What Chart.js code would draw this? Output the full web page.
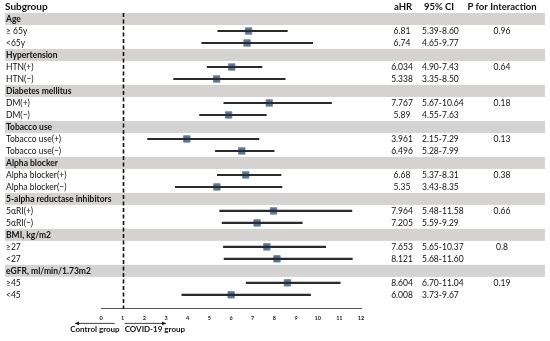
<!DOCTYPE html>
<html>
<head>
<meta charset="utf-8">
<script src="https://cdn.jsdelivr.net/npm/chart.js@4"></script>
<style>
  body { margin: 0; background: #fff; }
  #wrap { width: 550px; height: 341px; }
</style>
</head>
<body>
<div id="wrap"><canvas id="forest"></canvas></div>
<script>
// subgroups and their two rows each
var groups = ['Age', 'Hypertension', 'Diabetes mellitus', 'Tobacco use', 'Alpha blocker',
  '5-alpha reductase inhibitors', 'BMI, kg/m2', 'eGFR, ml/min/1.73m2'];
var subLabels = ['\u2265 65y', '<65y', 'HTN(+)', 'HTN(\u2212)', 'DM(+)', 'DM(\u2212)',
  'Tobacco use(+)', 'Tobacco use(\u2212)', 'Alpha blocker(+)', 'Alpha blocker(\u2212)',
  '5\u03b1RI(+)', '5\u03b1RI(\u2212)', '\u226527', '<27', '\u226545', '<45'];
var aHR = [6.81, 6.74, 6.034, 5.338, 7.767, 5.89, 3.961, 6.496, 6.68, 5.35, 7.964, 7.205, 7.653, 8.121, 8.604, 6.008];
var ciLow = [5.39, 4.65, 4.90, 3.35, 5.67, 4.55, 2.15, 5.28, 5.37, 3.43, 5.48, 5.59, 5.65, 5.68, 6.70, 3.73];
var ciHigh = [8.60, 9.77, 7.43, 8.50, 10.64, 7.63, 7.29, 7.99, 8.31, 8.35, 11.58, 9.29, 10.37, 11.60, 11.04, 9.67];
var aHRText = ['6.81', '6.74', '6.034', '5.338', '7.767', '5.89', '3.961', '6.496', '6.68', '5.35', '7.964', '7.205', '7.653', '8.121', '8.604', '6.008'];
var ciText = ['5.39-8.60', '4.65-9.77', '4.90-7.43', '3.35-8.50', '5.67-10.64', '4.55-7.63', '2.15-7.29', '5.28-7.99',
  '5.37-8.31', '3.43-8.35', '5.48-11.58', '5.59-9.29', '5.65-10.37', '5.68-11.60', '6.70-11.04', '3.73-9.67'];
var pInteraction = ['0.96', '0.64', '0.18', '0.13', '0.38', '0.66', '0.8', '0.19'];
var xTicks = [0, 1, 2, 3, 4, 5, 6, 7, 8, 9, 10, 11, 12];
var refLine = 1;

var FONT = 'Lato, "Open Sans", sans-serif';

// each group takes 3 rows: header, (+), (-)
function rowOf(i) { return Math.floor(i / 2) * 3 + 1 + (i % 2); }

var ciData = aHR.map(function (v, i) { return { y: rowOf(i), x: [ciLow[i], ciHigh[i]] }; });
var pointData = aHR.map(function (v, i) { return { y: rowOf(i), x: v }; });

var tablePlugin = {
  id: 'table',
  beforeDatasetsDraw: function (chart) {
    var ctx = chart.ctx, x = chart.scales.x, y = chart.scales.y;
    var step = Math.abs(y.getPixelForValue(1) - y.getPixelForValue(0));
    ctx.save();
    // grey bands for group headers
    ctx.fillStyle = '#d5d3d1';
    groups.forEach(function (g, k) {
      var cy = y.getPixelForValue(k * 3);
      ctx.fillRect(5, cy - step / 2, 540, step);
    });
    // reference line at HR = 1
    ctx.strokeStyle = '#111';
    ctx.lineWidth = 1.6;
    ctx.setLineDash([4, 2.5]);
    var rx = Math.round(x.getPixelForValue(refLine)) + 0.5;
    ctx.beginPath();
    ctx.moveTo(rx, y.getPixelForValue(-0.5));
    ctx.lineTo(rx, chart.chartArea.bottom);
    ctx.stroke();
    ctx.restore();
  },
  afterDraw: function (chart) {
    var ctx = chart.ctx, x = chart.scales.x, y = chart.scales.y;
    ctx.save();
    ctx.fillStyle = '#111';
    ctx.textBaseline = 'middle';
    var hy = y.getPixelForValue(-1);
    ctx.font = 'bold 10px ' + FONT;
    ctx.textAlign = 'left';
    ctx.fillText('Subgroup', 5, hy);
    ctx.font = 'bold 9.5px ' + FONT;
    ctx.textAlign = 'center';
    ctx.fillText('aHR', 403, hy);
    ctx.fillText('95% CI', 439, hy);
    ctx.fillText('P for Interaction', 502, hy);

    groups.forEach(function (g, k) {
      ctx.font = 'bold 8.5px ' + FONT;
      ctx.textAlign = 'left';
      ctx.fillText(g, 6, y.getPixelForValue(k * 3));
    });
    subLabels.forEach(function (s, i) {
      var cy = y.getPixelForValue(rowOf(i));
      ctx.font = '8.5px ' + FONT;
      ctx.textAlign = 'left';
      ctx.fillText(s, 6, cy);
      ctx.textAlign = 'center';
      ctx.fillText(aHRText[i], 402, cy);
      ctx.textAlign = 'left';
      ctx.fillText(ciText[i], 422, cy);
      if (i % 2 === 0) {
        ctx.textAlign = 'center';
        ctx.fillText(pInteraction[i / 2], 502, cy);
      }
    });

    // direction arrows under the axis
    var ay = chart.chartArea.bottom + 15;
    ctx.strokeStyle = '#111';
    ctx.lineWidth = 0.8;
    function arrow(x0, x1) {
      var d = x1 > x0 ? 1 : -1;
      ctx.beginPath();
      ctx.moveTo(x0, ay); ctx.lineTo(x1, ay); ctx.stroke();
      ctx.beginPath();
      ctx.moveTo(x1, ay); ctx.lineTo(x1 - d * 4, ay - 1.8); ctx.lineTo(x1 - d * 4, ay + 1.8);
      ctx.closePath(); ctx.fill();
    }
    arrow(x.getPixelForValue(refLine) - 8, x.getPixelForValue(-1.2));
    arrow(x.getPixelForValue(refLine) + 2, x.getPixelForValue(3));
    ctx.font = 'bold 8px ' + FONT;
    ctx.textAlign = 'right';
    ctx.fillText('Control group', x.getPixelForValue(refLine) - 3, ay + 6.5);
    ctx.textAlign = 'left';
    ctx.fillText('COVID-19 group', x.getPixelForValue(refLine) + 2, ay + 6.5);
    ctx.restore();
  }
};

new Chart(document.getElementById('forest'), {
  data: {
    datasets: [{
      type: 'bar',
      indexAxis: 'y',
      data: ciData,
      backgroundColor: '#2b2b2b',
      barThickness: 1.4,
      borderWidth: 0
    }, {
      type: 'scatter',
      data: pointData,
      pointStyle: 'rect',
      pointRadius: 4.6,
      backgroundColor: '#587393',
      borderColor: '#6a84a2',
      borderWidth: 0.8
    }]
  },
  plugins: [tablePlugin],
  options: {
    responsive: true,
    maintainAspectRatio: false,
    animation: false,
    layout: { padding: { left: 101, right: 189, top: 13, bottom: 12 } },
    plugins: { legend: { display: false }, tooltip: { enabled: false } },
    scales: {
      x: {
        type: 'linear',
        min: xTicks[0],
        max: xTicks[xTicks.length - 1],
        offset: false,
        afterBuildTicks: function (axis) { axis.ticks = xTicks.map(function (v) { return { value: v }; }); },
        grid: { display: false, drawTicks: false },
        border: { display: true, color: '#555', width: 1 },
        ticks: { font: { family: FONT, size: 5.5, weight: 'bold' }, color: '#222', padding: 7 }
      },
      y: {
        type: 'linear',
        reverse: true,
        offset: false,
        min: -0.5,
        max: 24.13,
        display: false
      }
    }
  }
});
</script>
</body>
</html>
